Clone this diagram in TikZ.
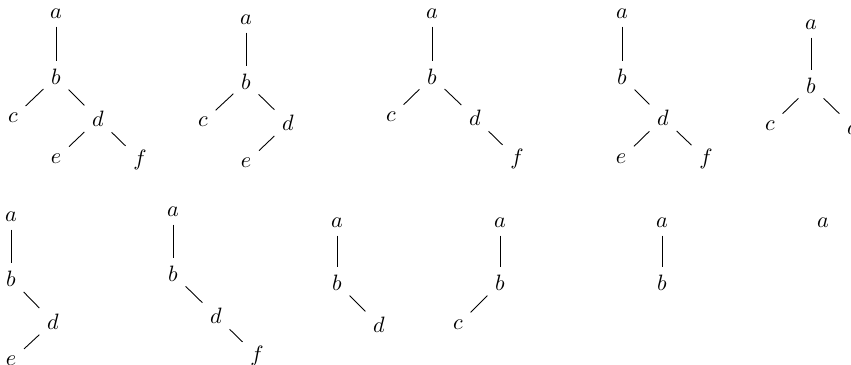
\documentclass[tikz,border=0pt]{standalone}
\usetikzlibrary{positioning}

\begin{document}
\begin{tikzpicture}[
    x=0.45pt,
    y=-0.45pt,
    sommet/.style={
        inner sep=3.33pt
    },
    arete/.style={
        line width=0.4pt
    }
]

\clip (0,0) rectangle (851,364);

% premiere ligne
\node[sommet] (a1) at (56,14) {$a$};
\node[sommet] (b1) at (56,77) {$b$};
\node[sommet] (c1) at (13,118) {$c$};
\node[sommet] (d1) at (98,119) {$d$};
\node[sommet] (e1) at (56,159) {$e$};
\node[sommet] (f1) at (140,160) {$f$};
\draw[arete] (a1) -- (b1);
\draw[arete] (b1) -- (c1);
\draw[arete] (b1) -- (d1);
\draw[arete] (d1) -- (e1);
\draw[arete] (d1) -- (f1);

\node[sommet] (a2) at (246,20) {$a$};
\node[sommet] (b2) at (246,82) {$b$};
\node[sommet] (c2) at (203,122) {$c$};
\node[sommet] (d2) at (288,123) {$d$};
\node[sommet] (e2) at (246,163) {$e$};
\draw[arete] (a2) -- (b2);
\draw[arete] (b2) -- (c2);
\draw[arete] (b2) -- (d2);
\draw[arete] (d2) -- (e2);

\node[sommet] (a3) at (432,14) {$a$};
\node[sommet] (b3) at (432,77) {$b$};
\node[sommet] (c3) at (391,117) {$c$};
\node[sommet] (d3) at (475,118) {$d$};
\node[sommet] (f3) at (517,159) {$f$};
\draw[arete] (a3) -- (b3);
\draw[arete] (b3) -- (c3);
\draw[arete] (b3) -- (d3);
\draw[arete] (d3) -- (f3);

\node[sommet] (a4) at (622,14) {$a$};
\node[sommet] (b4) at (622,77) {$b$};
\node[sommet] (d4) at (663,118) {$d$};
\node[sommet] (e4) at (621,159) {$e$};
\node[sommet] (f4) at (706,159) {$f$};
\draw[arete] (a4) -- (b4);
\draw[arete] (b4) -- (d4);
\draw[arete] (d4) -- (e4);
\draw[arete] (d4) -- (f4);

\node[sommet] (a5) at (811,25) {$a$};
\node[sommet] (b5) at (811,86) {$b$};
\node[sommet] (c5) at (770,126) {$c$};
\node[sommet] (d5) at (853,127) {$d$};
\draw[arete] (a5) -- (b5);
\draw[arete] (b5) -- (c5);
\draw[arete] (b5) -- (d5);

% deuxieme ligne
\node[sommet] (a6) at (11,217) {$a$};
\node[sommet] (b6) at (11,279) {$b$};
\node[sommet] (d6) at (53,322) {$d$};
\node[sommet] (e6) at (11,361) {$e$};
\draw[arete] (a6) -- (b6);
\draw[arete] (b6) -- (d6);
\draw[arete] (d6) -- (e6);

\node[sommet] (a7) at (173,212) {$a$};
\node[sommet] (b7) at (173,274) {$b$};
\node[sommet] (d7) at (216,316) {$d$};
\node[sommet] (f7) at (257,356) {$f$};
\draw[arete] (a7) -- (b7);
\draw[arete] (b7) -- (d7);
\draw[arete] (d7) -- (f7);

\node[sommet] (a8) at (337,223) {$a$};
\node[sommet] (b8) at (337,283) {$b$};
\node[sommet] (d8) at (379,325) {$d$};
\draw[arete] (a8) -- (b8);
\draw[arete] (b8) -- (d8);

\node[sommet] (a9) at (500,223) {$a$};
\node[sommet] (b9) at (500,283) {$b$};
\node[sommet] (c9) at (458,325) {$c$};
\draw[arete] (a9) -- (b9);
\draw[arete] (b9) -- (c9);

\node[sommet] (a10) at (662,223) {$a$};
\node[sommet] (b10) at (662,283) {$b$};
\draw[arete] (a10) -- (b10);

\node[sommet] (a11) at (823,223) {$a$};

\end{tikzpicture}
\end{document}
